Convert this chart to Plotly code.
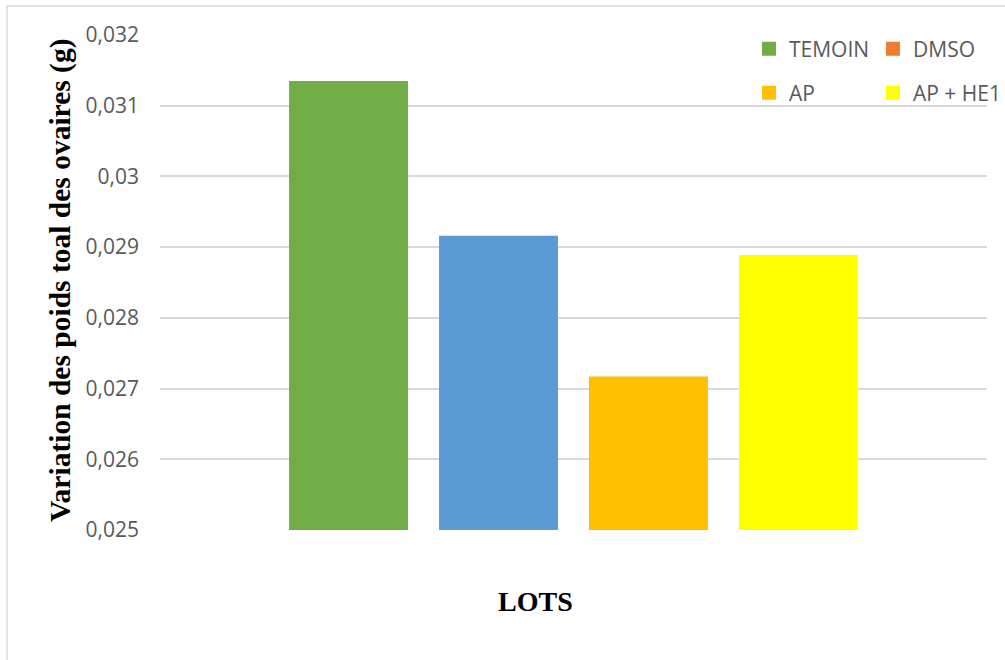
import plotly.graph_objects as go

# ---- data ----
series = ["TEMOIN", "DMSO", "AP", "AP + HE1"]
values = [0.03135, 0.02916, 0.02717, 0.02889]
bar_colors = ["#70AD47", "#5B9BD5", "#FFC000", "#FFFF00"]
legend_colors = ["#70AD47", "#ED7D31", "#FFC000", "#FFFF00"]
tick_vals = [0.025, 0.026, 0.027, 0.028, 0.029, 0.030, 0.031, 0.032]
tick_text = ["0,025", "0,026", "0,027", "0,028", "0,029", "0,03", "0,031", "0,032"]
category = ["LOTS"]
legend_rows = ["legend", "legend", "legend2", "legend2"]

W, H = 1005, 660
L, R, T, B = 160, 18, 35, 130
pw, ph = W - L - R, H - T - B

def px_x(x):
    return (x - L) / pw

def px_y(y):
    return (H - B - y) / ph

fig = go.Figure()
for name, v, c in zip(series, values, bar_colors):
    fig.add_trace(go.Bar(x=category, y=[v], name=name, marker=dict(color=c, line=dict(width=0)),
                         showlegend=False))
for name, c, lg in zip(series, legend_colors, legend_rows):
    fig.add_trace(go.Scatter(x=[None], y=[None], mode="markers", name=name,
                             marker=dict(symbol="square", size=14, color=c),
                             legend=lg, showlegend=True))

legend_font = dict(family="Open Sans", size=21, color="#595959")
fig.update_layout(
    width=W, height=H,
    margin=dict(l=L, r=R, t=T, b=B, pad=0, autoexpand=False),
    paper_bgcolor="white", plot_bgcolor="white",
    barmode="group", bargap=0.2745, bargroupgap=0.207,
    showlegend=True,
    legend=dict(orientation="h", x=px_x(749), y=px_y(49), xanchor="left", yanchor="middle",
                font=legend_font, entrywidth=79, bgcolor="rgba(0,0,0,0)", itemwidth=30),
    legend2=dict(orientation="h", x=px_x(749), y=px_y(93), xanchor="left", yanchor="middle",
                 font=legend_font, entrywidth=79, bgcolor="rgba(0,0,0,0)", itemwidth=30),
    xaxis=dict(type="category", range=[-0.5, 0.5], showticklabels=False, showgrid=False,
               zeroline=False, showline=False, ticks=""),
    yaxis=dict(range=[0.025, 0.032], tickvals=tick_vals, ticktext=tick_text,
               showgrid=True, gridcolor="#D9D9D9", gridwidth=1.5, zeroline=False,
               showline=False, ticks="", ticklabelstandoff=20,
               tickfont=dict(family="Open Sans", size=21, color="#595959")),
    annotations=[
        dict(text="<b>LOTS</b>", x=px_x(535), y=px_y(601), xref="paper", yref="paper",
             showarrow=False, xanchor="center", yanchor="middle",
             font=dict(family="Liberation Serif", size=28, color="black")),
        dict(text="<b>Variation des poids toal des ovaires (g)</b>", x=px_x(60), y=px_y(280),
             xref="paper", yref="paper", showarrow=False, textangle=-90,
             xanchor="center", yanchor="middle",
             font=dict(family="Liberation Serif", size=29.5, color="black")),
    ],
    shapes=[
        dict(type="rect", xref="paper", yref="paper", x0=px_x(7), x1=px_x(1015),
             y0=px_y(670), y1=px_y(6), line=dict(color="#D9D9D9", width=1.5),
             fillcolor="rgba(0,0,0,0)", layer="below"),
    ],
)

fig.write_html("out.html")
